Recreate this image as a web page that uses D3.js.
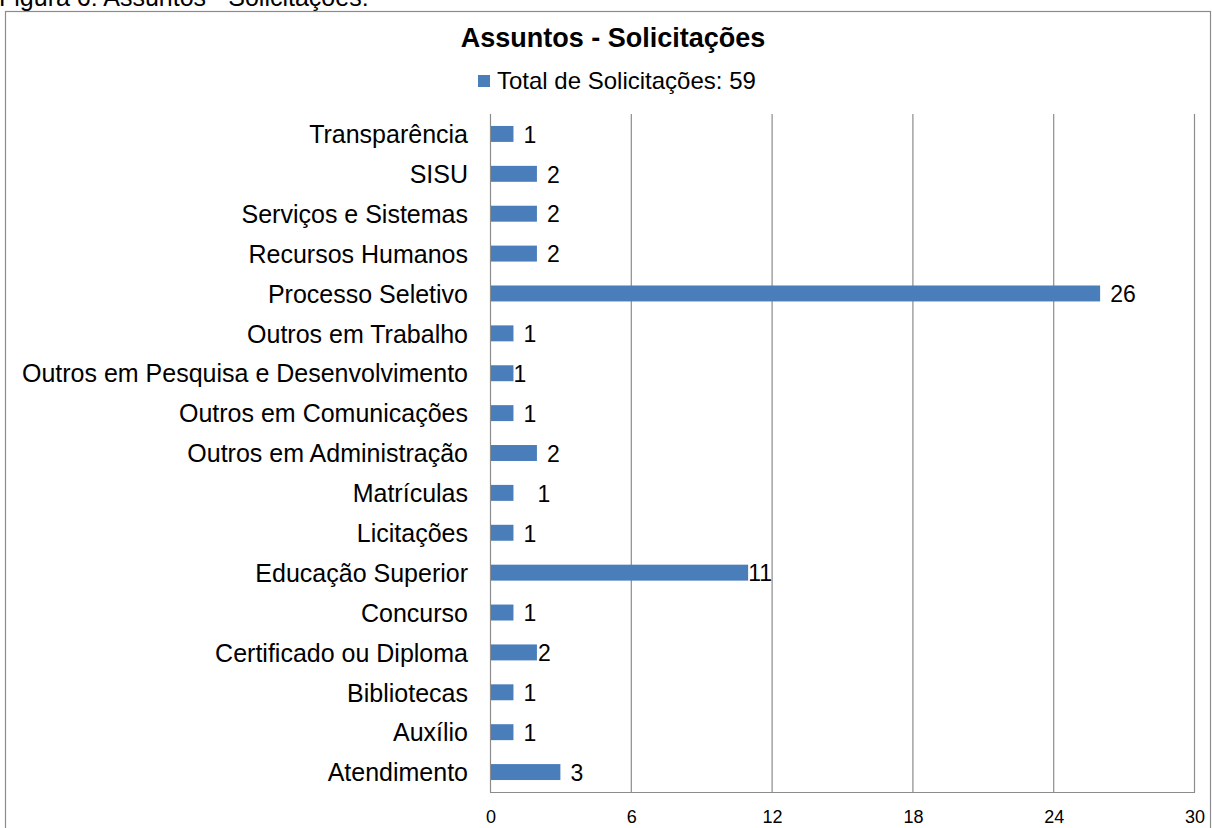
<!DOCTYPE html>
<html>
<head>
<meta charset="utf-8">
<script src="https://cdn.jsdelivr.net/npm/d3@7"></script>
<style>
  body { margin: 0; background: #fff; }
  svg { display: block; font-family: "Liberation Sans", Arial, sans-serif; }
</style>
</head>
<body>
<div id="chart"></div>
<script>
// data, top to bottom
var categories = ["Transparência", "SISU", "Serviços e Sistemas", "Recursos Humanos",
  "Processo Seletivo", "Outros em Trabalho", "Outros em Pesquisa e Desenvolvimento",
  "Outros em Comunicações", "Outros em Administração", "Matrículas", "Licitações",
  "Educação Superior", "Concurso", "Certificado ou Diploma", "Bibliotecas", "Auxílio", "Atendimento"];
var values = [1, 2, 2, 2, 26, 1, 1, 1, 2, 1, 1, 11, 1, 2, 1, 1, 3];
var xTicks = [0, 6, 12, 18, 24, 30];
var seriesName = "Total de Solicitações: 59";

var width = 1212, height = 828;
var margin = {top: 114, left: 490, right: 18, bottom: 36};

var svg = d3.select("#chart").append("svg")
    .attr("width", width)
    .attr("height", height);

// caption partly cut off at top of the page
svg.append("text")
    .attr("x", -1)
    .attr("y", 6)
    .style("font-size", "25px")
    .style("fill", "#000")
    .text("Figura 6: Assuntos - Solicitações:");

// chart frame
svg.append("rect")
    .attr("x", 5.5).attr("y", 11.5)
    .attr("width", 1205).attr("height", 840)
    .style("fill", "none")
    .style("stroke", "#8c8c8c")
    .style("stroke-width", 1.2);

var x = d3.scaleLinear().domain([0, 30]).range([margin.left, width - margin.right]);
var y = d3.scaleBand().domain(categories)
    .range([margin.top, height - margin.bottom])
    .paddingInner(0.6).paddingOuter(0.3);

// vertical gridlines
svg.selectAll("line.grid").data(xTicks.slice(1)).enter().append("line")
    .attr("class", "grid")
    .attr("x1", function(d) { return x(d) + 0.5; })
    .attr("x2", function(d) { return x(d) + 0.5; })
    .attr("y1", margin.top)
    .attr("y2", height - margin.bottom)
    .style("stroke", "#8c8c8c")
    .style("stroke-width", 1.2);

// axes
svg.append("line")
    .attr("x1", margin.left + 0.5).attr("x2", margin.left + 0.5)
    .attr("y1", margin.top).attr("y2", height - margin.bottom)
    .style("stroke", "#8c8c8c").style("stroke-width", 1.2);
svg.append("line")
    .attr("x1", margin.left).attr("x2", width - margin.right + 1)
    .attr("y1", height - margin.bottom + 0.5).attr("y2", height - margin.bottom + 0.5)
    .style("stroke", "#8c8c8c").style("stroke-width", 1.2);

svg.selectAll("text.tick").data(xTicks).enter().append("text")
    .attr("class", "tick")
    .attr("x", function(d) { return x(d) + 1; })
    .attr("y", height - 5)
    .attr("text-anchor", "middle")
    .style("font-size", "18px")
    .text(function(d) { return d; });

// category labels
svg.selectAll("text.cat").data(categories).enter().append("text")
    .attr("class", "cat")
    .attr("x", margin.left - 22)
    .attr("y", function(d) { return y(d) + y.bandwidth() / 2; })
    .attr("dy", "0.37em")
    .attr("text-anchor", "end")
    .style("font-size", "25px")
    .text(function(d) { return d; });

// bars
svg.selectAll("rect.bar").data(values).enter().append("rect")
    .attr("class", "bar")
    .attr("x", x(0) + 1)
    .attr("y", function(d, i) { return y(categories[i]); })
    .attr("width", function(d) { return x(d) - x(0) - 1; })
    .attr("height", y.bandwidth())
    .style("fill", "#4a7ebb");

// value labels (a few sit tight against the bar in the original)
var labelGap = {"Outros em Pesquisa e Desenvolvimento": 0, "Educação Superior": 0,
  "Certificado ou Diploma": 1, "Matrículas": 24};
svg.selectAll("text.val").data(values).enter().append("text")
    .attr("class", "val")
    .attr("x", function(d, i) {
      var g = labelGap[categories[i]];
      return x(d) + (g === undefined ? 10 : g);
    })
    .attr("y", function(d, i) { return y(categories[i]) + y.bandwidth() / 2; })
    .attr("dy", "0.38em")
    .style("font-size", "23px")
    .text(function(d) { return d; });

// title and legend
svg.append("text")
    .attr("x", 613).attr("y", 47)
    .attr("text-anchor", "middle")
    .style("font-size", "27px")
    .style("font-weight", "bold")
    .text("Assuntos - Solicitações");

svg.append("rect")
    .attr("x", 478).attr("y", 75)
    .attr("width", 12).attr("height", 12)
    .style("fill", "#4a7ebb");
svg.append("text")
    .attr("x", 497).attr("y", 89)
    .style("font-size", "24px")
    .text(seriesName);
</script>
</body>
</html>
